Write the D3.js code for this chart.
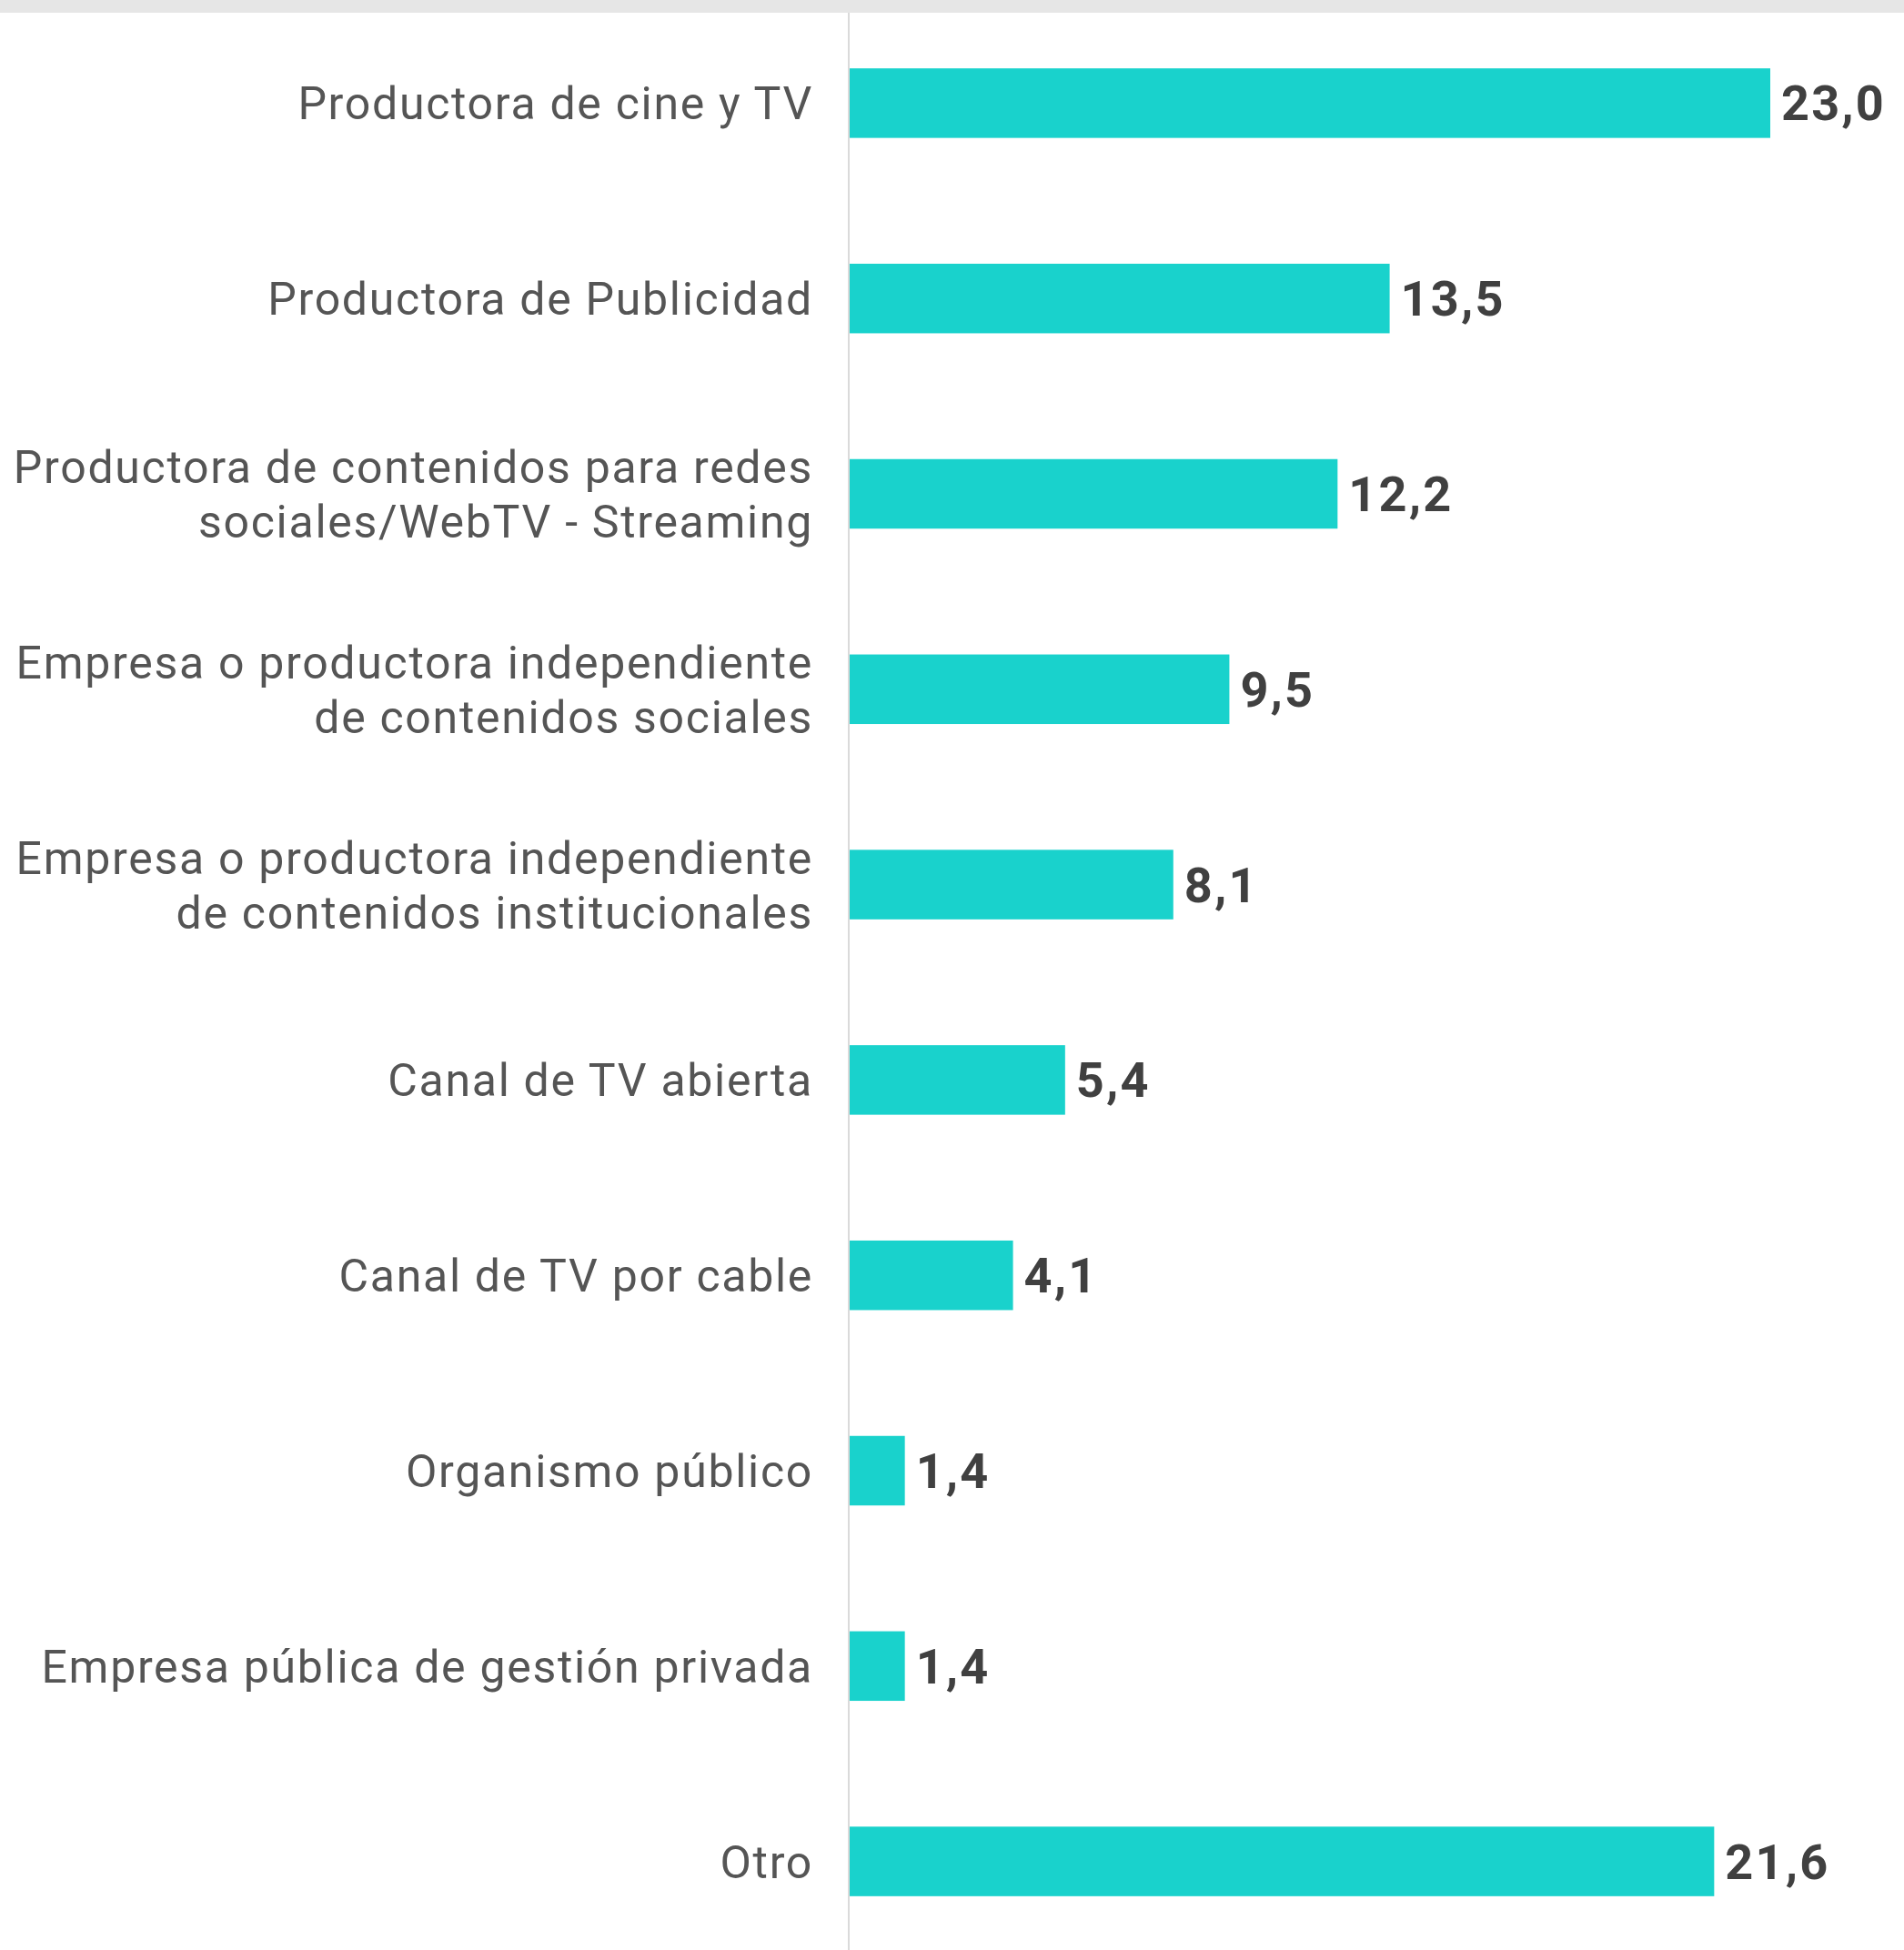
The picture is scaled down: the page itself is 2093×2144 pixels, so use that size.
<!DOCTYPE html>
<html>
<head>
<meta charset="utf-8">
<script src="https://cdnjs.cloudflare.com/ajax/libs/d3/7.8.5/d3.min.js"></script>
<style>
  html, body { margin: 0; padding: 0; background: #fff; }
  .label { font-family: Roboto, "Noto Sans", sans-serif; fill: #555; letter-spacing: 1.7px; }
  .value { font-family: Roboto, "Noto Sans", sans-serif; font-weight: bold; fill: #404040; letter-spacing: 2.2px; }
</style>
</head>
<body>
<div id="chart"></div>
<script>
// data
var categories = [
  ['Productora de cine y TV'],
  ['Productora de Publicidad'],
  ['Productora de contenidos para redes', 'sociales/WebTV - Streaming'],
  ['Empresa o productora independiente', 'de contenidos sociales'],
  ['Empresa o productora independiente', 'de contenidos institucionales'],
  ['Canal de TV abierta'],
  ['Canal de TV por cable'],
  ['Organismo público'],
  ['Empresa pública de gestión privada'],
  ['Otro']
]
var values = [23.0, 13.5, 12.2, 9.5, 8.1, 5.4, 4.1, 1.4, 1.4, 21.6]

var data = categories.map(function (c, i) { return { id: i, lines: c, value: values[i] } })

var width = 2093, height = 2144
var axisX = 933

var svg = d3.select('#chart').append('svg')
  .attr('width', width)
  .attr('height', height)

// scales
var xScale = d3.scaleLinear()
  .domain([0, 23])
  .range([axisX, 1946])

var yScale = d3.scaleBand()
  .domain(data.map(function (d) { return d.id }))
  .range([6, 2154])
  .paddingInner(0.644)
  .paddingOuter(0.322)

var fmt = d3.formatLocale({ decimal: ',', thousands: '.', grouping: [3], currency: ['', ''] }).format('.1f')

// top band
svg.append('rect')
  .attr('x', 0).attr('y', 0)
  .attr('width', width).attr('height', 14)
  .attr('fill', '#e6e6e6')

// axis line
svg.append('line')
  .attr('x1', axisX).attr('x2', axisX)
  .attr('y1', 14).attr('y2', height)
  .attr('stroke', '#dadada')
  .attr('stroke-width', 2)

// bars
svg.selectAll('.bar')
  .data(data)
  .enter().append('rect')
  .attr('class', 'bar')
  .attr('x', xScale(0) + 1)
  .attr('y', function (d) { return yScale(d.id) })
  .attr('width', function (d) { return xScale(d.value) - xScale(0) - 1 })
  .attr('height', yScale.bandwidth())
  .attr('fill', '#19d2cc')

// category labels
var labels = svg.selectAll('.label')
  .data(data)
  .enter().append('text')
  .attr('class', 'label')
  .attr('text-anchor', 'end')
  .style('font-size', '50px')

labels.each(function (d) {
  var cy = yScale(d.id) + yScale.bandwidth() / 2
  var n = d.lines.length
  var t = d3.select(this)
  d.lines.forEach(function (line, i) {
    t.append('tspan')
      .attr('x', 894)
      .attr('y', cy + (i - (n - 1) / 2) * 60 + 18)
      .text(line)
  })
})

// value labels
svg.selectAll('.value')
  .data(data)
  .enter().append('text')
  .attr('class', 'value')
  .attr('x', function (d) { return xScale(d.value) + 12 })
  .attr('y', function (d) { return yScale(d.id) + yScale.bandwidth() / 2 + 19 })
  .style('font-size', '54px')
  .text(function (d) { return fmt(d.value) })
</script>
</body>
</html>
